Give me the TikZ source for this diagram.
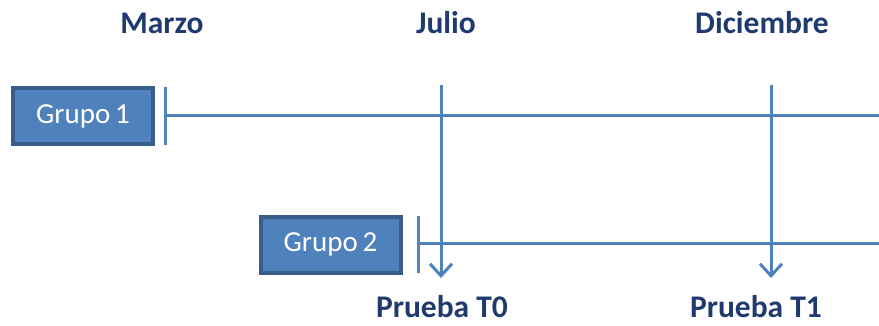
\documentclass[tikz,border=0pt]{standalone}
\usepackage{fontspec}
\setmainfont{Carlito}
\usetikzlibrary{arrows.meta}
\definecolor{lineblue}{HTML}{4F81BD}
\definecolor{boxedge}{HTML}{385D8A}
\definecolor{labelblue}{HTML}{1F3A6E}
\tikzset{
  grupobox/.style={draw=boxedge, line width=4pt, fill=lineblue, text=white, minimum width=140pt, minimum height=56pt, inner sep=0pt, font=\fontsize{29}{31}\selectfont},
  tl/.style={lineblue, line width=3pt},
  arr/.style={lineblue, line width=3pt, -{Straight Barb[length=12pt, width=22pt, line width=3pt]}},
  lab/.style={text=labelblue, font=\bfseries\fontsize{31.5}{34}\selectfont, inner sep=0pt}
}
\begin{document}
\begin{tikzpicture}[x=1pt,y=1pt]
\useasboundingbox (0,0) rectangle (879,325);
% boxes
\node[grupobox] (g1) at (83,209) {Grupo\,1};
\node[grupobox] (g2) at (330.5,80.5) {Grupo\,2};
% group 1 line
\coordinate (t1a) at (165,238);
\coordinate (t1b) at (165,180);
\coordinate (t1m) at (165,210);
\coordinate (e1) at (879,210);
\draw[tl] (t1a) -- (t1b);
\draw[tl] (t1m) -- (e1);
% group 2 line
\coordinate (t2a) at (418,109);
\coordinate (t2b) at (418,52);
\coordinate (t2m) at (418,82);
\coordinate (e2) at (879,82);
\draw[tl] (t2a) -- (t2b);
\draw[tl] (t2m) -- (e2);
% arrows
\coordinate (j1) at (441,240);
\coordinate (j2) at (441,47);
\coordinate (d1) at (771,240);
\coordinate (d2) at (771,47);
\draw[arr] (j1) -- (j2);
\draw[arr] (d1) -- (d2);
% labels
\node[lab] (marzo) at (162,302) {Marzo};
\node[lab] (julio) at (446,302) {Julio};
\node[lab] (dic) at (762,302) {Diciembre};
\node[lab] (p0) at (442,18) {Prueba T0};
\node[lab] (p1) at (756,18) {Prueba T1};
\end{tikzpicture}
\end{document}
